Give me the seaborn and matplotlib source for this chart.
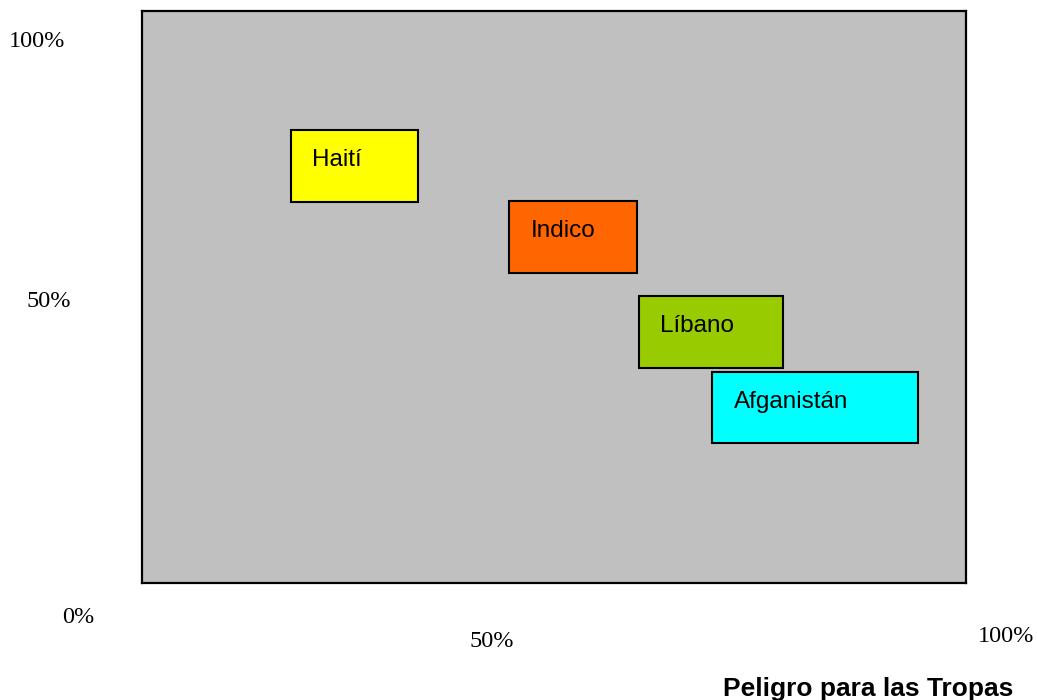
import matplotlib
matplotlib.use("Agg")
import matplotlib.pyplot as plt
import seaborn as sns
import numpy as np

# ---- data ----
countries = ["Haití", "Indico", "Líbano", "Afganistán"]
x_start = [18.1, 44.6, 60.3, 69.2]
x_end = [33.5, 60.1, 77.8, 94.2]
y_start = [66.6, 54.2, 37.5, 24.4]
y_end = [79.2, 66.8, 50.1, 36.8]
box_colors = ["#FFFF00", "#FF6600", "#99CC00", "#00FFFF"]

y_labels = ["100%", "50%"]
x_labels = ["0%", "50%", "100%"]
x_title = "Peligro para las Tropas"

sns.set_theme(style="white")
plt.rcParams["font.family"] = ["Liberation Sans", "DejaVu Sans"]

W, H = 1037, 700
fig = plt.figure(figsize=(W / 100, H / 100), dpi=100)
ax = fig.add_axes([141.5 / W, (H - 582.5) / H, 824.5 / W, 571.5 / H])
ax.set_facecolor("#C0C0C0")
ax.set_xlim(0, 100)
ax.set_ylim(0, 100)
ax.set_xticks([])
ax.set_yticks([])
for s in ax.spines.values():
    s.set_color("black")
    s.set_linewidth(1.6)
    s.set_visible(True)

widths = np.array(x_end) - np.array(x_start)
heights = np.array(y_end) - np.array(y_start)
ax.bar(x_start, heights, width=widths, bottom=y_start, align="edge",
       color=box_colors, edgecolor="black", linewidth=1.5, zorder=3)

for name, x0, y1 in zip(countries, x_start, y_end):
    ax.annotate(name, xy=(x0, y1), xytext=(21.5, -36), textcoords="offset pixels",
                ha="left", va="baseline", fontsize=17.5, color="black",
                family=["Liberation Sans", "DejaVu Sans"], zorder=4)

serif = ["Liberation Serif", "DejaVu Serif"]
# y-side labels (center x, baseline y in pixels)
for lab, (px, py) in zip(y_labels, [(37.5, 47), (48.5, 307)]):
    fig.text(px / W, 1 - py / H, lab, ha="center", va="baseline",
             fontsize=17.5, family=serif, color="black")
for lab, (px, py) in zip(x_labels, [(78.5, 623), (492, 647), (1006, 642)]):
    fig.text(px / W, 1 - py / H, lab, ha="center", va="baseline",
             fontsize=17.5, family=serif, color="black")

fig.text(868 / W, 1 - 696 / H, x_title, ha="center", va="baseline",
         fontsize=19, fontweight="bold", color="black",
         family=["Liberation Sans", "DejaVu Sans"])

fig.savefig("out.png", dpi=100)
